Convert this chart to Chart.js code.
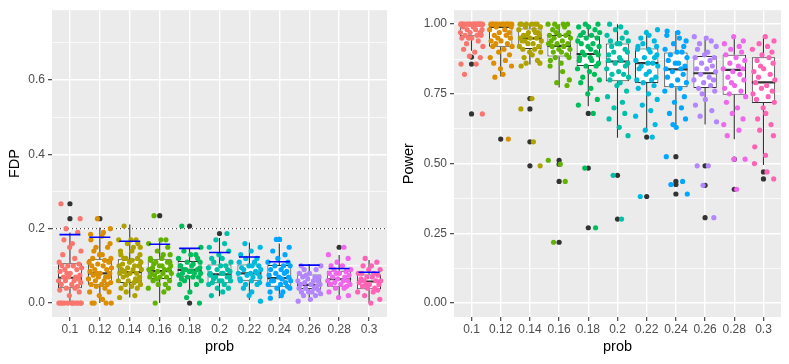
<!DOCTYPE html>
<html>
<head>
<meta charset="utf-8">
<script src="https://cdn.jsdelivr.net/npm/chart.js@4.4.1/dist/chart.umd.min.js"></script>
<style>
  html, body { margin: 0; padding: 0; background: #fff; }
  #wrap { position: relative; width: 789px; height: 364px; }
  canvas { position: absolute; top: 0; }
  #fdpChart { left: 0; }
  #powerChart { left: 394px; }
</style>
</head>
<body>
<div id="wrap">
  <canvas id="fdpChart" width="394" height="364"></canvas>
  <canvas id="powerChart" width="395" height="364"></canvas>
</div>
<script>
// categories + palette (ggplot hue)
const probs  = ["0.1","0.12","0.14","0.16","0.18","0.2","0.22","0.24","0.26","0.28","0.3"];
const colors = ["#F8766D","#DB8E00","#AEA200","#64B200","#00BD5C","#00C1A7","#00BADE","#00A6FF","#B385FF","#EF67EB","#FF63B6"];

// FDP boxplot stats
const fdpLow  = [0, 0, 0.015, 0, 0.024, 0.018, 0.008, 0.013, 0.005, 0.018, 0];
const fdpQ1   = [0.040, 0.049, 0.054, 0.065, 0.071, 0.053, 0.060, 0.044, 0.038, 0.044, 0.037];
const fdpMed  = [0.068, 0.080, 0.083, 0.086, 0.089, 0.077, 0.080, 0.067, 0.049, 0.064, 0.058];
const fdpQ3   = [0.107, 0.118, 0.118, 0.118, 0.113, 0.104, 0.104, 0.102, 0.077, 0.087, 0.077];
const fdpHigh = [0.190, 0.203, 0.211, 0.175, 0.148, 0.175, 0.163, 0.160, 0.105, 0.129, 0.116];
const fdpBlue = [0.184, 0.177, 0.166, 0.158, 0.147, 0.136, 0.124, 0.111, 0.102, 0.093, 0.083];
const fdpOut  = [[0,0.227],[0,0.267],[1,0.227],[3,0.235],[4,0.207],[4,0],[5,0.187],[7,0.171],[9,0.150]];
const fdpLevel = 0.2;

// FDP jittered points, one list per prob
const fdpPts = [
  [0,0,0,0,0,0,0,0,0,0,0,0,0.02,0.03,0.035,0.04,0.04,0.045,0.05,0.05,0.055,0.06,0.06,0.06,0.065,0.07,0.07,0.07,0.075,0.08,0.08,0.085,0.09,0.09,0.095,0.1,0.1,0.1,0.105,0.11,0.12,0.13,0.14,0.15,0.16,0.17,0.19,0.2,0.227,0.267],
  [0,0,0,0,0.01,0.02,0.03,0.03,0.04,0.045,0.05,0.05,0.05,0.055,0.06,0.06,0.065,0.07,0.07,0.07,0.075,0.08,0.08,0.08,0.085,0.09,0.09,0.095,0.1,0.1,0.105,0.11,0.11,0.115,0.12,0.12,0.13,0.13,0.14,0.15,0.15,0.16,0.17,0.18,0.185,0.19,0.2,0.227],
  [0.015,0.02,0.03,0.04,0.04,0.045,0.05,0.05,0.055,0.06,0.06,0.06,0.065,0.07,0.07,0.075,0.08,0.08,0.08,0.085,0.09,0.09,0.09,0.095,0.1,0.1,0.1,0.105,0.11,0.11,0.115,0.12,0.12,0.12,0.13,0.13,0.14,0.14,0.15,0.15,0.16,0.16,0.17,0.17,0.17,0.207],
  [0,0.03,0.04,0.04,0.05,0.05,0.06,0.06,0.065,0.07,0.07,0.07,0.075,0.08,0.08,0.08,0.085,0.09,0.09,0.09,0.095,0.1,0.1,0.1,0.105,0.11,0.11,0.11,0.115,0.12,0.12,0.13,0.13,0.14,0.15,0.16,0.17,0.17,0.235],
  [0,0.015,0.03,0.05,0.05,0.06,0.06,0.065,0.07,0.07,0.07,0.075,0.08,0.08,0.08,0.085,0.085,0.09,0.09,0.09,0.095,0.1,0.1,0.1,0.105,0.11,0.11,0.12,0.12,0.13,0.13,0.14,0.15,0.207],
  [0.02,0.03,0.04,0.04,0.05,0.05,0.055,0.06,0.06,0.06,0.065,0.07,0.07,0.07,0.075,0.08,0.08,0.08,0.085,0.09,0.09,0.095,0.1,0.1,0.11,0.11,0.12,0.12,0.13,0.14,0.15,0.16,0.17,0.187],
  [0.005,0.02,0.03,0.04,0.05,0.05,0.055,0.06,0.06,0.065,0.07,0.07,0.075,0.08,0.08,0.08,0.085,0.09,0.09,0.095,0.1,0.1,0.1,0.11,0.11,0.12,0.12,0.13,0.14,0.15,0.16],
  [0.013,0.02,0.03,0.03,0.04,0.04,0.045,0.05,0.05,0.055,0.06,0.06,0.06,0.065,0.07,0.07,0.075,0.08,0.08,0.085,0.09,0.09,0.1,0.1,0.1,0.11,0.11,0.12,0.13,0.14,0.15,0.171,0.171],
  [0.005,0.01,0.02,0.02,0.025,0.03,0.03,0.03,0.035,0.04,0.04,0.04,0.045,0.05,0.05,0.05,0.055,0.06,0.06,0.06,0.065,0.07,0.07,0.07,0.075,0.08,0.08,0.09,0.09,0.1,0.1],
  [0.015,0.02,0.03,0.04,0.04,0.045,0.05,0.05,0.05,0.055,0.06,0.06,0.06,0.065,0.07,0.07,0.075,0.08,0.08,0.08,0.085,0.09,0.09,0.1,0.1,0.11,0.12,0.13,0.15],
  [0,0.01,0.02,0.03,0.03,0.035,0.04,0.04,0.045,0.05,0.05,0.05,0.055,0.06,0.06,0.06,0.065,0.07,0.07,0.075,0.08,0.08,0.08,0.09,0.09,0.1,0.1,0.11,0.12]
];

// Power boxplot stats
const powLow  = [0.905, 0.812, 0.855, 0.773, 0.706, 0.593, 0.617, 0.628, 0.640, 0.587, 0.495];
const powQ1   = [0.957, 0.919, 0.911, 0.884, 0.850, 0.795, 0.789, 0.774, 0.771, 0.747, 0.717];
const powMed  = [1.000, 0.990, 0.949, 0.922, 0.893, 0.866, 0.860, 0.838, 0.824, 0.836, 0.791];
const powQ3   = [1.000, 1.000, 0.984, 0.961, 0.957, 0.931, 0.913, 0.898, 0.886, 0.890, 0.881];
const powHigh = [1, 1, 1, 1, 1, 1, 0.980, 0.975, 0.955, 0.955, 0.955];
const powOut  = [[0,0.882],[0,0.857],[0,0.678],[1,0.588],[2,0.733],[2,0.696],[2,0.578],[2,0.492],
                 [3,0.512],[3,0.498],[3,0.436],[3,0.218],[4,0.680],[4,0.484],[4,0.270],[5,0.458],[5,0.301],
                 [6,0.595],[6,0.382],[7,0.525],[7,0.436],[7,0.425],[7,0.391],[8,0.492],[8,0.422],[8,0.306],
                 [9,0.516],[9,0.408],[10,0.470],[10,0.445]];

const powPts = [
  [1,1,1,1,1,1,1,1,1,1,1,1,1,1,1,1,1,1,0.99,0.99,0.98,0.98,0.98,0.97,0.97,0.97,0.96,0.96,0.96,0.95,0.95,0.95,0.94,0.93,0.92,0.91,0.9,0.885,0.88,0.857,0.857,0.82,0.678],
  [1,1,1,1,1,1,1,1,1,1,1,1,1,0.99,0.99,0.98,0.98,0.97,0.97,0.96,0.96,0.95,0.95,0.94,0.94,0.93,0.93,0.92,0.92,0.91,0.9,0.89,0.88,0.87,0.86,0.85,0.84,0.82,0.81,0.588],
  [1,1,1,1,1,1,0.99,0.99,0.98,0.98,0.97,0.97,0.97,0.96,0.96,0.96,0.95,0.95,0.95,0.94,0.94,0.94,0.93,0.93,0.92,0.92,0.91,0.91,0.9,0.9,0.89,0.88,0.87,0.86,0.86,0.85,0.733,0.696,0.578,0.492],
  [1,1,1,1,0.99,0.99,0.98,0.97,0.97,0.96,0.96,0.96,0.95,0.95,0.94,0.94,0.93,0.93,0.93,0.92,0.92,0.91,0.91,0.9,0.9,0.89,0.88,0.88,0.87,0.86,0.85,0.83,0.8,0.79,0.78,0.512,0.498,0.436,0.218],
  [1,1,0.99,0.99,0.98,0.97,0.97,0.96,0.96,0.95,0.95,0.94,0.93,0.93,0.92,0.92,0.91,0.9,0.9,0.89,0.89,0.88,0.88,0.87,0.87,0.86,0.85,0.85,0.84,0.83,0.82,0.81,0.8,0.79,0.77,0.75,0.73,0.71,0.68,0.484,0.27],
  [1,0.99,0.98,0.97,0.96,0.95,0.94,0.94,0.93,0.93,0.92,0.91,0.9,0.9,0.89,0.88,0.87,0.87,0.86,0.86,0.85,0.84,0.83,0.82,0.82,0.81,0.8,0.79,0.78,0.76,0.74,0.72,0.7,0.68,0.66,0.63,0.6,0.458,0.301],
  [0.98,0.97,0.96,0.95,0.94,0.93,0.92,0.92,0.91,0.91,0.9,0.89,0.88,0.88,0.87,0.86,0.86,0.85,0.85,0.84,0.83,0.82,0.81,0.8,0.8,0.79,0.78,0.77,0.75,0.73,0.71,0.69,0.67,0.64,0.62,0.595,0.382],
  [0.975,0.97,0.96,0.95,0.94,0.93,0.92,0.91,0.9,0.9,0.89,0.88,0.87,0.86,0.86,0.85,0.84,0.84,0.83,0.82,0.81,0.8,0.79,0.78,0.77,0.76,0.74,0.72,0.7,0.68,0.66,0.64,0.63,0.525,0.436,0.425,0.391],
  [0.955,0.95,0.94,0.93,0.92,0.91,0.9,0.89,0.88,0.88,0.87,0.86,0.85,0.84,0.84,0.83,0.82,0.81,0.8,0.8,0.79,0.78,0.77,0.76,0.75,0.73,0.71,0.69,0.67,0.65,0.492,0.492,0.422,0.306],
  [0.955,0.94,0.93,0.92,0.91,0.9,0.89,0.88,0.87,0.86,0.85,0.84,0.84,0.83,0.82,0.81,0.8,0.79,0.78,0.77,0.76,0.75,0.74,0.72,0.7,0.68,0.66,0.64,0.62,0.6,0.516,0.516,0.408],
  [0.955,0.94,0.93,0.92,0.91,0.9,0.89,0.88,0.87,0.86,0.85,0.84,0.83,0.82,0.81,0.8,0.79,0.78,0.77,0.76,0.75,0.74,0.73,0.72,0.7,0.68,0.66,0.64,0.62,0.6,0.56,0.53,0.5,0.47,0.445]
];

// hand-typed horizontal jitter offsets (category units)
const jitterX = [-0.31,0.12,0.35,-0.08,0.27,-0.37,0.04,0.21,-0.19,0.38,-0.26,0.09,-0.02,0.31,-0.34,0.17,-0.12,0.25,-0.29,0.06,
                 0.36,-0.15,0.14,-0.38,0.29,-0.05,0.19,-0.22,0.33,-0.1,0.01,-0.33,0.23,-0.17,0.39,-0.27,0.11,-0.07,0.3,-0.36,
                 0.16,-0.24,0.37,-0.01,0.08,-0.2,0.26,-0.13,0.34,-0.3,0.07];

// y ticks (major labelled, minor unlabelled)
const fdpTicks   = [0, 0.1, 0.2, 0.3, 0.4, 0.5, 0.6, 0.7];
const fdpLabels  = ["0.0", "", "0.2", "", "0.4", "", "0.6", ""];
const powTicks   = [0, 0.125, 0.25, 0.375, 0.5, 0.625, 0.75, 0.875, 1];
const powLabels  = ["0.00", "", "0.25", "", "0.50", "", "0.75", "", "1.00"];

Chart.defaults.font.family = "'Liberation Sans', Arial, sans-serif";
Chart.defaults.animation = false;

const panelBg = {
  id: "panelBg",
  beforeDraw(chart) {
    const { ctx, chartArea: a } = chart;
    ctx.save();
    ctx.fillStyle = "#EBEBEB";
    ctx.fillRect(a.left, a.top, a.right - a.left, a.bottom - a.top);
    ctx.restore();
  }
};

function segLine(data, color, width, order, dash) {
  return { type: "line", data, borderColor: color, borderWidth: width, pointRadius: 0,
           spanGaps: false, tension: 0, fill: false, order, borderDash: dash || [] };
}

function boxDatasets(lo, q1, med, q3, hi, pts, outs) {
  const ds = [];
  ds.push({
    type: "bar",
    data: q1.map((v, i) => ({ x: i, y: [v, q3[i]] })),
    backgroundColor: "#FFFFFF", borderColor: "#333333", borderWidth: 1,
    borderSkipped: false, barPercentage: 0.8, categoryPercentage: 1, grouped: false, order: 6
  });
  const wh = [];
  q1.forEach((v, i) => {
    wh.push({ x: i, y: q3[i] }, { x: i, y: hi[i] }, { x: i, y: null });
    wh.push({ x: i, y: v }, { x: i, y: lo[i] }, { x: i, y: null });
  });
  ds.push(segLine(wh, "#333333", 1.1, 7));
  const md = [];
  med.forEach((m, i) => md.push({ x: i - 0.4, y: m }, { x: i + 0.4, y: m }, { x: i + 0.4, y: null }));
  ds.push(segLine(md, "#333333", 2.2, 5));
  ds.push({
    type: "scatter",
    data: outs.map(o => ({ x: o[0], y: o[1] })),
    backgroundColor: "#333333", borderWidth: 0, pointRadius: 2.6, order: 3
  });
  pts.forEach((vals, i) => {
    ds.push({
      type: "scatter",
      data: vals.map((v, k) => ({ x: i + jitterX[(k + i * 7) % jitterX.length], y: v })),
      backgroundColor: colors[i], borderWidth: 0, pointRadius: 2.6, order: 2
    });
  });
  return ds;
}

function makePanel(id, datasets, yTitle, yMin, yMax, ticks, labels, yWidth, padRight) {
  return new Chart(document.getElementById(id), {
    type: "scatter",
    data: { datasets },
    plugins: [panelBg],
    options: {
      responsive: false,
      devicePixelRatio: 1,
      layout: { padding: { top: 8, right: padRight, bottom: 0, left: 0 } },
      plugins: { legend: { display: false }, tooltip: { enabled: false } },
      scales: {
        x: {
          type: "linear", min: -0.6, max: 10.6, offset: false,
          afterBuildTicks: s => { s.ticks = probs.map((p, i) => ({ value: i })); },
          afterFit: s => { s.height = 47; },
          ticks: { callback: (v, i) => probs[i], color: "#4D4D4D", font: { size: 12 },
                   autoSkip: false, maxRotation: 0, padding: 1 },
          grid: { color: "#FFFFFF", lineWidth: 1.4, offset: false, drawTicks: true,
                  tickLength: 4, tickColor: "#333333", tickWidth: 1.1 },
          border: { display: false },
          title: { display: true, text: "prob", color: "#000", font: { size: 14.5 },
                   padding: { top: 0, bottom: 8 } }
        },
        y: {
          type: "linear", min: yMin, max: yMax, beginAtZero: false,
          afterBuildTicks: s => { s.ticks = ticks.map(v => ({ value: v })); },
          afterFit: s => { s.width = yWidth; },
          ticks: { callback: (v, i) => labels[i], color: "#4D4D4D", font: { size: 12 }, padding: 3 },
          grid: {
            color: "#FFFFFF",
            lineWidth: c => labels[c.index] ? 1.4 : 0.7,
            drawTicks: true, tickLength: 4,
            tickColor: c => labels[c.index] ? "#333333" : "rgba(0,0,0,0)",
            tickWidth: 1.1
          },
          border: { display: false },
          title: { display: true, text: yTitle, color: "#000", font: { size: 14.5 },
                   padding: { top: 6, bottom: 0 } }
        }
      }
    }
  });
}

// left panel: FDP with dotted target level and blue segments
const fdpSets = boxDatasets(fdpLow, fdpQ1, fdpMed, fdpQ3, fdpHigh, fdpPts, fdpOut);
const blue = [];
fdpBlue.forEach((b, i) => blue.push({ x: i - 0.35, y: b }, { x: i + 0.35, y: b }, { x: i + 0.35, y: null }));
fdpSets.push(segLine(blue, "#0000FF", 1.6, 1));
fdpSets.push(segLine([{ x: -0.6, y: fdpLevel }, { x: 10.6, y: fdpLevel }], "#222222", 1, 8, [1, 3]));
makePanel("fdpChart", fdpSets, "FDP", -0.0375, 0.7875, fdpTicks, fdpLabels, 52, 7);

// right panel: Power
const powSets = boxDatasets(powLow, powQ1, powMed, powQ3, powHigh, powPts, powOut);
makePanel("powerChart", powSets, "Power", -0.05, 1.05, powTicks, powLabels, 60, 8);
</script>
</body>
</html>
